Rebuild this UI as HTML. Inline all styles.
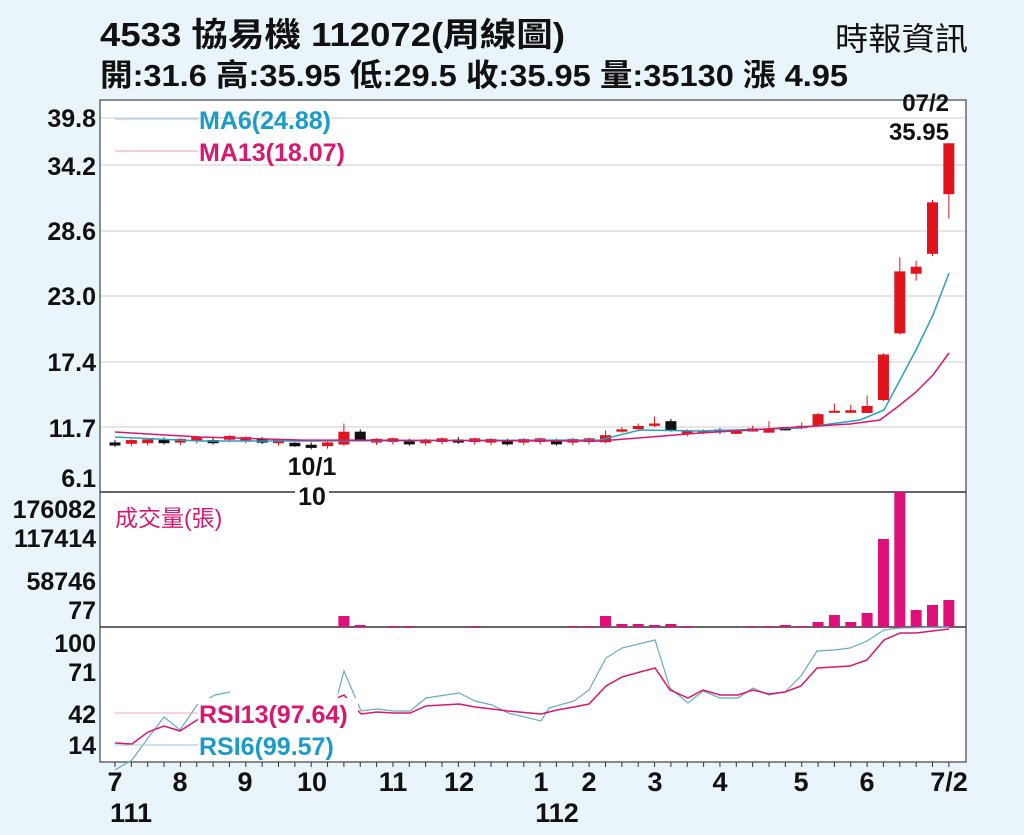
<!DOCTYPE html>
<html><head><meta charset="utf-8"><style>
body{margin:0;width:1024px;height:835px;background:#e9f4fb;overflow:hidden;font-family:"Liberation Sans","Noto Sans CJK TC",sans-serif}
</style></head><body>
<svg id="s" width="1024" height="835" xmlns="http://www.w3.org/2000/svg" style="position:absolute;left:0;top:0;font-family:'Liberation Sans','Noto Sans CJK TC',sans-serif">
<text x="100" y="46" font-size="33" font-weight="bold" fill="#111" textLength="465" lengthAdjust="spacingAndGlyphs">4533  協易機 112072(周線圖)</text>
<text x="835" y="50" font-size="32" fill="#111" textLength="133" lengthAdjust="spacingAndGlyphs">時報資訊</text>
<text x="100" y="86" font-size="31" font-weight="bold" fill="#111" textLength="748" lengthAdjust="spacingAndGlyphs">開:31.6 高:35.95 低:29.5 收:35.95 量:35130 漲 4.95</text>
<rect x="100" y="100" width="866" height="662" fill="#fff" stroke="#666" stroke-width="1.5"/>
<g id="g"></g>
</svg>
<script>
var g=document.getElementById('g'),h='';
function X(i){return 115+i*16.35}
function P(p){return 427-(p-11.7)*11.7}
[[39.8,118],[34.2,165],[28.6,231],[23.0,296],[17.4,362],[11.7,427]].forEach(function(t){h+='<line x1="101" x2="965" y1="'+t[1]+'" y2="'+t[1]+'" stroke="#ddd" stroke-width="1.5"/>';});
h+='<line x1="100" x2="966" y1="492" y2="492" stroke="#333" stroke-width="1.5"/><line x1="100" x2="966" y1="627" y2="627" stroke="#333" stroke-width="1.5"/>';
var T=[['39.8',127],['34.2',175],['28.6',240],['23.0',305],['17.4',371],['11.7',437],['6.1',487],['176082',518],['117414',547],['58746',590],['77',619],['100',652],['71',681],['42',723],['14',754]];
T.forEach(function(t){h+='<text x="96" y="'+t[1]+'" font-size="25" font-weight="bold" text-anchor="end" fill="#111">'+t[0]+'</text>';});
var C=[];
var base=[10.3,10.35,10.4,10.5,10.45,10.6,10.5,10.7,10.6,10.55,10.4,10.2,10.1,10.15,0,0,10.45,10.5,10.4,10.4,10.5,10.55,10.5,10.45,10.4,10.45,10.5,10.4,10.45,10.5];
for(var i=0;i<30;i++){var b=base[i];C.push([b,b+(i%3==0?-0.1:0.15),b+0.3,b-0.3]);}
C[14]=[10.2,11.3,12.0,10.1];C[15]=[11.3,10.6,11.5,10.5];
C[11]=[10.35,10.05,10.4,10.0];
C.push([10.4,11.0,11.4,10.3]);C.push([11.3,11.5,11.7,11.2]);C.push([11.6,11.7,12.0,11.5]);C.push([11.8,12.0,12.6,11.7]);C.push([12.2,11.4,12.4,11.3]);C.push([11.2,11.3,11.5,10.9]);C.push([11.2,11.4,11.5,11.1]);C.push([11.4,11.35,11.6,11.1]);C.push([11.2,11.3,11.4,11.1]);C.push([11.4,11.5,11.8,11.3]);C.push([11.3,11.4,12.2,11.3]);C.push([11.6,11.5,11.7,11.4]);C.push([11.6,11.8,12.1,11.5]);
C.push([11.8,12.8,12.9,11.7]);C.push([13.0,13.0,13.7,13.0]);C.push([13.0,13.05,13.6,12.9]);C.push([12.9,13.5,14.4,12.9]);C.push([14.0,17.9,18.0,13.9]);C.push([19.7,25.0,26.2,19.6]);C.push([24.8,25.4,25.9,24.2]);C.push([26.5,30.9,31.1,26.3]);C.push([31.6,35.95,35.95,29.5]);
C.forEach(function(c,i){var x=X(i),col=c[1]>=c[0]?'#e0141a':'#111';var y1=P(Math.max(c[0],c[1])),y2=P(Math.min(c[0],c[1]));if(y2-y1<2){y1-=1;y2+=1;}
h+='<line x1="'+x+'" x2="'+x+'" y1="'+P(c[2])+'" y2="'+P(c[3])+'" stroke="'+col+'" stroke-width="1"/>';
h+='<rect x="'+(x-5.5)+'" y="'+y1+'" width="11" height="'+(y2-y1)+'" fill="'+col+'"/>';});
function pl(pts,col,w){return '<polyline fill="none" stroke="'+col+'" stroke-width="'+(w||1.5)+'" points="'+pts+'"/>';}
h+=pl('115,437 200,441 300,441 600,440 640,430 700,431 800,428 860,420 884,410 900,380 916,350 933,315 949,273','#2aa0c0');
h+=pl('115,432 200,437 300,440 600,441 700,433 850,424 880,420 900,405 916,392 933,375 949,353','#d8186f');
h+='<line x1="115" x2="198" y1="119" y2="119" stroke="#9bc6db"/><line x1="115" x2="198" y1="151" y2="151" stroke="#e6a0bd"/>';
h+='<text x="199" y="129" font-size="25" font-weight="bold" fill="#1a9bc8">MA6(24.88)</text><text x="199" y="161" font-size="25" font-weight="bold" fill="#d8186f">MA13(18.07)</text>';
h+='<text x="949" y="111" font-size="24" font-weight="bold" text-anchor="end" fill="#111">07/2</text><text x="949" y="140" font-size="24" font-weight="bold" text-anchor="end" fill="#111">35.95</text>';
h+='<text x="312" y="475" font-size="25" font-weight="bold" text-anchor="middle" fill="#111">10/1</text><rect x="295" y="484" width="34" height="20" fill="#fff"/><text x="312" y="505" font-size="25" font-weight="bold" text-anchor="middle" fill="#111">10</text>';
var V={14:11,15:2,17:1,18:1,22:1,28:1,29:1,30:11,31:3,32:3,33:2,34:3,35:1,39:1,40:1,41:2,42:1,43:5,44:12,45:5,46:14,47:88,48:135,49:17,50:22,51:27};
for(var k in V){h+='<rect x="'+(X(+k)-5.5)+'" y="'+(627-V[k])+'" width="11" height="'+V[k]+'" fill="#e0107a"/>';}
h+='<text x="115" y="526" font-size="23" fill="#d8186f">成交量(張)</text>';
h+=pl('115,770 132,760 148,738 164,717 180,730 197,705 215,695 230,692 245,700 262,705 280,705 300,705 320,705 337,697 344,671 361,711 377,709 393,711 410,711 426,698 459,693 475,701 492,705 508,713 541,721 549,708 574,701 589,690 606,658 622,648 655,640 670,688 688,703 703,691 720,698 738,698 753,688 769,695 785,692 801,676 817,651 834,650 850,648 867,641 884,630 900,628 949,627','#6aaabf',1.2);
h+=pl('115,743 132,744 148,732 164,726 180,731 197,720 215,712 230,708 260,706 300,706 337,698 344,695 361,714 377,712 393,713 410,713 426,706 459,704 475,707 492,709 508,711 541,714 557,710 574,707 589,704 606,686 622,677 640,672 655,668 670,690 688,698 703,690 720,695 738,695 753,690 769,694 785,692 801,686 817,668 834,667 850,666 867,660 884,640 900,633 916,633 949,629','#d8186f',1.5);
h+='<rect x="198" y="698" width="160" height="62" fill="#fff"/><rect x="230" y="690" width="108" height="10" fill="#fff"/>';
h+='<line x1="115" x2="198" y1="713" y2="713" stroke="#f0a8c0"/><line x1="115" x2="198" y1="745" y2="745" stroke="#9bc6db"/>';
h+='<text x="199" y="723" font-size="25" font-weight="bold" fill="#d8186f">RSI13(97.64)</text><text x="199" y="755" font-size="25" font-weight="bold" fill="#1a9bc8">RSI6(99.57)</text>';
for(var i=0;i<52;i++){h+='<line x1="'+X(i)+'" x2="'+X(i)+'" y1="762" y2="'+(767)+'" stroke="#333"/>';}
[['7',115],['8',180],['9',245],['10',312],['11',393],['12',459],['1',541],['2',589],['3',655],['4',720],['5',801],['6',867],['7/2',949]].forEach(function(t){h+='<text x="'+t[1]+'" y="791" font-size="27" font-weight="bold" text-anchor="middle" fill="#111">'+t[0]+'</text>';});
h+='<text x="131" y="822" font-size="27" font-weight="bold" text-anchor="middle" fill="#111">111</text><text x="557" y="822" font-size="27" font-weight="bold" text-anchor="middle" fill="#111">112</text>';
g.innerHTML=h;
</script>
</body></html>
